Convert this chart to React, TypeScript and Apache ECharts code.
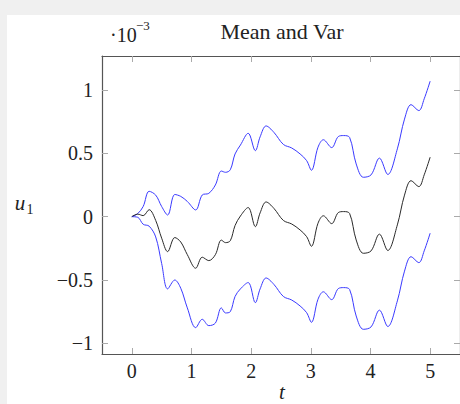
import React, { useEffect, useRef } from "react";
import * as echarts from "echarts";

// time samples (t)
const T = [0, 0.1, 0.19, 0.29, 0.4, 0.5, 0.6, 0.72, 0.82, 0.93, 1.07, 1.18, 1.29, 1.4, 1.5, 1.57, 1.65, 1.73, 1.82, 1.95, 2.07, 2.15, 2.25, 2.38, 2.54, 2.68, 2.82, 2.93, 3.01, 3.12, 3.21, 3.35, 3.46, 3.55, 3.65, 3.76, 3.88, 4.01, 4.15, 4.29, 4.45, 4.57, 4.68, 4.81, 4.9, 5.0];

// mean of u1 (x 1e-3)
const meanVals = [0, 0.02, 0.008, 0.055, -0.03, -0.17, -0.276, -0.165, -0.2, -0.3, -0.407, -0.32, -0.347, -0.3, -0.185, -0.205, -0.19, -0.07, 0.005, 0.072, -0.079, 0.03, 0.116, 0.066, -0.03, -0.058, -0.105, -0.158, -0.234, -0.052, 0.007, -0.055, 0.032, 0.04, 0.025, -0.184, -0.289, -0.27, -0.138, -0.267, -0.065, 0.17, 0.284, 0.237, 0.33, 0.47];

// mean + std (x 1e-3)
const upperVals = [0, 0.025, 0.08, 0.2, 0.17, 0.08, 0.013, 0.175, 0.16, 0.12, 0.053, 0.171, 0.184, 0.25, 0.36, 0.35, 0.37, 0.495, 0.565, 0.658, 0.521, 0.63, 0.716, 0.666, 0.57, 0.542, 0.495, 0.442, 0.366, 0.548, 0.607, 0.545, 0.632, 0.64, 0.625, 0.416, 0.311, 0.33, 0.462, 0.333, 0.535, 0.77, 0.884, 0.837, 0.93, 1.07];

// mean - std (x 1e-3)
const lowerVals = [0, -0.005, -0.06, -0.075, -0.16, -0.37, -0.57, -0.5, -0.565, -0.72, -0.876, -0.81, -0.86, -0.84, -0.72, -0.76, -0.75, -0.63, -0.57, -0.52, -0.679, -0.57, -0.484, -0.534, -0.63, -0.658, -0.705, -0.758, -0.834, -0.652, -0.593, -0.655, -0.568, -0.56, -0.575, -0.784, -0.889, -0.87, -0.738, -0.867, -0.665, -0.43, -0.316, -0.363, -0.27, -0.13];

const xTicks = [0, 1, 2, 3, 4, 5];
const yTicks = [-1, -0.5, 0, 0.5, 1];
const yTickLabels = ["\u22121", "\u22120.5", "0", "0.5", "1"];

const FONT = "Liberation Serif";

export default function App() {
  const ref = useRef<HTMLDivElement>(null);
  useEffect(() => {
    if (!ref.current) return;
    const chart = echarts.init(ref.current, undefined, { renderer: "svg" });
    const pair = (vals: number[]) => T.map((t, i) => [t, vals[i]]);
    const xCommon = {
      type: "value" as const,
      min: -0.5,
      max: 5.5,
      splitLine: { show: false },
      axisLine: { show: true, onZero: false, lineStyle: { color: "#555", width: 1.2 } },
      axisTick: { show: true, inside: true, length: 6, customValues: xTicks, lineStyle: { color: "#aaa", width: 1 } },
    };
    const yCommon = {
      type: "value" as const,
      min: -1.084,
      max: 1.268,
      splitLine: { show: false },
      axisLine: { show: true, onZero: false, lineStyle: { color: "#555", width: 1.2 } },
      axisTick: { show: true, inside: true, length: 6, customValues: yTicks, lineStyle: { color: "#aaa", width: 1 } },
    };
    chart.setOption({
      animation: false,
      backgroundColor: "#f0f0f0",
      grid: { left: 102, top: 56, width: 360, height: 298, containLabel: false },
      xAxis: [
        {
          ...xCommon,
          position: "bottom",
          axisLabel: {
            show: true,
            customValues: xTicks,
            margin: 7,
            fontFamily: FONT,
            fontSize: 20,
            color: "#222",
            formatter: (v: number) => String(v),
          },
        },
        { ...xCommon, position: "top", axisLabel: { show: false } },
      ],
      yAxis: [
        {
          ...yCommon,
          position: "left",
          axisLabel: {
            show: true,
            customValues: yTicks,
            margin: 9,
            fontFamily: FONT,
            fontSize: 20,
            color: "#222",
            formatter: (v: number) => {
              const i = yTicks.findIndex((y) => Math.abs(y - v) < 1e-9);
              return i >= 0 ? yTickLabels[i] : "";
            },
          },
        },
        { ...yCommon, position: "right", axisLabel: { show: false } },
      ],
      graphic: [
        { type: "rect", z: -10, shape: { x: 7, y: 15, width: 460, height: 400 }, style: { fill: "#ffffff" }, silent: true },
        { type: "text", x: 282, y: 31, style: { text: "Mean and Var", font: `22px "${FONT}"`, fill: "#222", textAlign: "center", textVerticalAlign: "middle" } },
        { type: "text", x: 110, y: 35, style: { text: "\u00b710", font: `20px "${FONT}"`, fill: "#222", textAlign: "left", textVerticalAlign: "middle" } },
        { type: "text", x: 136, y: 25, style: { text: "\u22123", font: `13px "${FONT}"`, fill: "#222", textAlign: "left", textVerticalAlign: "middle" } },
        { type: "text", x: 20, y: 203, style: { text: "u", font: `italic 21px "${FONT}"`, fill: "#222", textAlign: "center", textVerticalAlign: "middle" } },
        { type: "text", x: 30, y: 209, style: { text: "1", font: `14px "${FONT}"`, fill: "#222", textAlign: "center", textVerticalAlign: "middle" } },
        { type: "text", x: 282, y: 392, style: { text: "t", font: `italic 21px "${FONT}"`, fill: "#222", textAlign: "center", textVerticalAlign: "middle" } },
      ],
      series: [
        {
          type: "line",
          name: "upper",
          data: pair(upperVals),
          showSymbol: false,
          smooth: 0.35,
          lineStyle: { color: "#3a3aff", width: 1 },
          z: 3,
        },
        {
          type: "line",
          name: "lower",
          data: pair(lowerVals),
          showSymbol: false,
          smooth: 0.35,
          lineStyle: { color: "#3a3aff", width: 1 },
          z: 3,
        },
        {
          type: "line",
          name: "mean",
          data: pair(meanVals),
          showSymbol: false,
          smooth: 0.35,
          lineStyle: { color: "#2a2a2a", width: 1 },
          z: 4,
        },
      ],
    });
    return () => chart.dispose();
  }, []);
  return <div ref={ref} style={{ position: "fixed", left: 0, top: 0, width: 460, height: 404 }} />;
}
